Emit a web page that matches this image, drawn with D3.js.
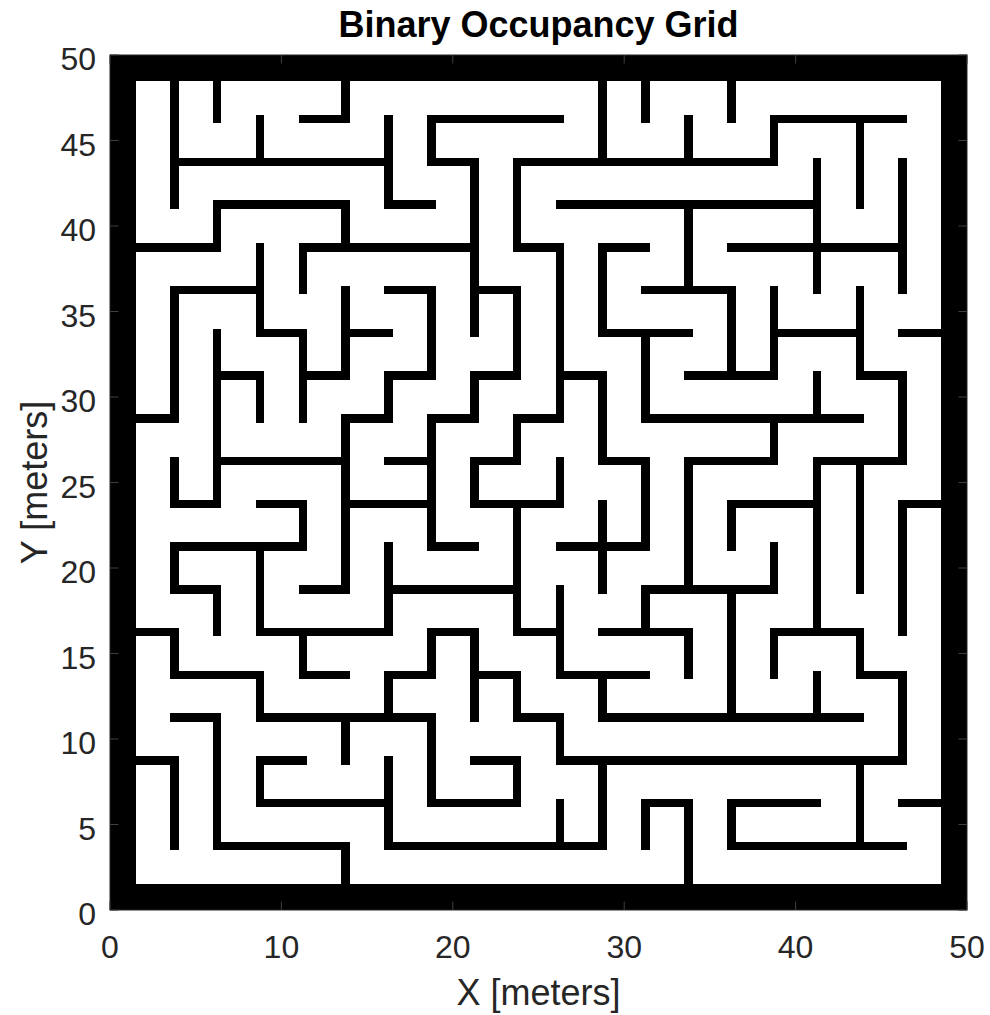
<!DOCTYPE html>
<html>
<head>
<meta charset="utf-8">
<script src="https://cdn.jsdelivr.net/npm/d3@7"></script>
<style>
  body { margin: 0; background: #fff; }
  text { font-family: "Liberation Sans", Arial, Helvetica, sans-serif; fill: #262626; }
</style>
</head>
<body>
<script>
// maze map: 50 x 50 m, 19 x 19 passages
const mapSize = 50
const borderWidth = 1.5
const passageWidth = 2
const wallThickness = 0.5

// horizontal walls: [line j, from node, to node]
const hWalls = [
  [18,4,5],[18,7,10],[18,15,18],
  [17,1,6],[17,7,8],[17,9,15],
  [16,2,5],[16,6,7],[16,10,16],
  [15,0,2],[15,4,8],[15,9,10],[15,11,12],[15,14,18],
  [14,1,3],[14,6,7],[14,8,9],[14,12,14],
  [13,3,4],[13,5,6],[13,11,13],[13,15,17],[13,18,19],
  [12,2,3],[12,4,5],[12,6,7],[12,8,9],[12,10,11],[12,13,15],[12,17,18],
  [11,0,1],[11,5,6],[11,7,8],[11,9,10],[11,12,17],
  [10,2,5],[10,6,7],[10,8,9],[10,11,12],[10,13,15],[10,16,18],
  [9,1,2],[9,3,4],[9,5,7],[9,8,10],[9,14,16],[9,18,19],
  [8,1,4],[8,7,8],[8,10,12],
  [7,1,2],[7,4,5],[7,6,9],[7,12,15],
  [6,0,1],[6,3,6],[6,7,8],[6,9,10],[6,11,13],[6,15,17],
  [5,1,3],[5,4,5],[5,6,7],[5,8,9],[5,10,12],[5,17,18],
  [4,1,2],[4,3,7],[4,9,10],[4,11,17],
  [3,0,1],[3,3,4],[3,8,9],[3,10,18],
  [2,3,6],[2,7,9],[2,12,13],[2,14,16],[2,18,19],
  [1,2,5],[1,6,11],[1,14,18]
]

// vertical walls: [line i, from node, to node]
const vWalls = [
  [1,16,19],[1,11,14],[1,9,10],[1,7,8],[1,5,6],[1,1,3],
  [2,18,19],[2,15,16],[2,9,13],[2,6,7],[2,1,4],
  [3,17,18],[3,13,15],[3,11,12],[3,6,8],[3,4,5],[3,2,3],
  [4,14,15],[4,11,13],[4,8,9],[4,5,6],
  [5,18,19],[5,15,16],[5,12,14],[5,7,11],[5,3,4],[5,0,1],
  [6,16,18],[6,11,12],[6,6,8],[6,4,5],[6,1,3],
  [7,17,18],[7,12,14],[7,8,11],[7,5,6],[7,2,4],
  [8,13,17],[8,11,12],[8,9,10],[8,4,6],
  [9,15,17],[9,12,14],[9,10,11],[9,6,9],[9,4,5],[9,2,3],
  [10,11,15],[10,9,10],[10,5,7],[10,3,4],[10,1,2],
  [11,17,19],[11,13,15],[11,10,12],[11,7,9],[11,4,5],[11,1,3],
  [12,18,19],[12,11,13],[12,8,10],[12,6,7],[12,1,2],
  [13,17,18],[13,14,16],[13,7,10],[13,5,6],[13,0,2],
  [14,18,19],[14,12,14],[14,8,9],[14,4,7],[14,1,2],
  [15,17,18],[15,12,14],[15,10,11],[15,7,8],[15,5,6],
  [16,14,17],[16,11,12],[16,6,10],[16,4,5],
  [17,16,18],[17,12,14],[17,7,10],[17,5,6],[17,1,3],
  [18,14,17],[18,10,12],[18,6,9],[18,3,5]
]

const xTicks = [0, 10, 20, 30, 40, 50]
const yTicks = [0, 5, 10, 15, 20, 25, 30, 35, 40, 45, 50]

const W = 990, H = 1015
const margin = {top: 55, left: 110, right: 23, bottom: 105}

const svg = d3.select('body').append('svg')
  .attr('width', W)
  .attr('height', H)

const x = d3.scaleLinear().domain([0, mapSize]).range([margin.left, W - margin.right])
const y = d3.scaleLinear().domain([0, mapSize]).range([H - margin.bottom, margin.top])

// node n of the maze in meters (start / end of the wall line)
const pitch = passageWidth + wallThickness
const n0 = (n) => borderWidth - wallThickness + pitch * n
const n1 = (n) => borderWidth + pitch * n

// occupied cells as rectangles in meters
const border = [
  [0, 0, mapSize, borderWidth],
  [0, mapSize - borderWidth, mapSize, mapSize],
  [0, 0, borderWidth, mapSize],
  [mapSize - borderWidth, 0, mapSize, mapSize]
]
const walls = border
  .concat(hWalls.map(([j, a, b]) => [n0(a), n0(j), n1(b), n1(j)]))
  .concat(vWalls.map(([i, a, b]) => [n0(i), n0(a), n1(i), n1(b)]))

svg.append('g').selectAll('rect').data(walls).join('rect')
  .attr('x', (d) => x(d[0]))
  .attr('y', (d) => y(d[3]))
  .attr('width', (d) => x(d[2]) - x(d[0]))
  .attr('height', (d) => y(d[1]) - y(d[3]))
  .attr('fill', '#000')
  .attr('shape-rendering', 'crispEdges')

// axes (MATLAB style: ticks inside, box on)
const tickLen = 8.5
const axisColor = '#262626'
const gAx = svg.append('g')
  .attr('stroke', '#404040')
  .attr('stroke-width', 1)

gAx.selectAll('.xt').data(xTicks).join('path')
  .attr('d', (d) => `M${x(d)},${y(0)}v${-tickLen}M${x(d)},${y(50)}v${tickLen}`)
gAx.selectAll('.yt').data(yTicks).join('path')
  .attr('d', (d) => `M${x(0)},${y(d)}h${tickLen}M${x(50)},${y(d)}h${-tickLen}`)

svg.append('rect')
  .attr('x', x(0)).attr('y', y(50))
  .attr('width', x(50) - x(0)).attr('height', y(0) - y(50))
  .attr('fill', 'none')
  .attr('stroke', axisColor)
  .attr('stroke-width', 1)

svg.append('g').selectAll('text').data(xTicks).join('text')
  .attr('x', (d) => x(d))
  .attr('y', y(0) + 48)
  .attr('text-anchor', 'middle')
  .attr('font-size', 32)
  .text((d) => d)

svg.append('g').selectAll('text').data(yTicks).join('text')
  .attr('x', x(0) - 14)
  .attr('y', (d) => y(d) + 15)
  .attr('text-anchor', 'end')
  .attr('font-size', 32)
  .text((d) => d)

svg.append('text')
  .attr('x', (x(0) + x(50)) / 2)
  .attr('y', 37)
  .attr('text-anchor', 'middle')
  .attr('font-size', 36)
  .attr('font-weight', 'bold')
  .style('fill', '#000')
  .text('Binary Occupancy Grid')

svg.append('text')
  .attr('x', (x(0) + x(50)) / 2)
  .attr('y', 1005)
  .attr('text-anchor', 'middle')
  .attr('font-size', 36)
  .text('X [meters]')

svg.append('text')
  .attr('transform', `translate(47,${(y(0) + y(50)) / 2}) rotate(-90)`)
  .attr('text-anchor', 'middle')
  .attr('font-size', 36)
  .text('Y [meters]')
</script>
</body>
</html>
